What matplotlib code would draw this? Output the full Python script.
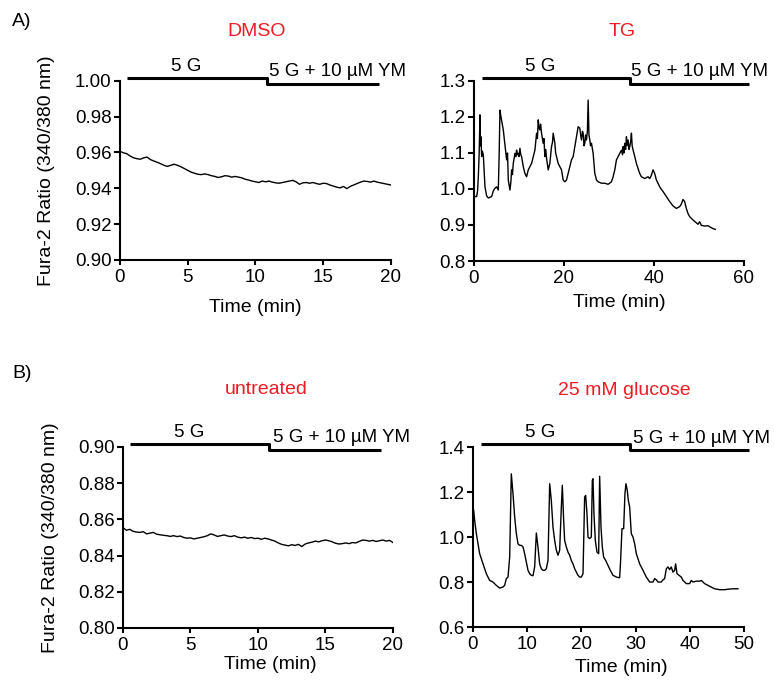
import numpy as np
import matplotlib
matplotlib.use('Agg')
import matplotlib.pyplot as plt
import matplotlib.transforms as mtransforms
from matplotlib.ticker import FormatStrFormatter

plt.rcParams['font.family'] = ['Liberation Sans', 'DejaVu Sans']

RED = '#ED1C24'

# panel A left: DMSO (0.25 min sampling)
dmso_t = np.arange(0, 20.01, 0.25)
dmso_v = [0.9606, 0.9598, 0.9593, 0.9580, 0.9570, 0.9565, 0.9562, 0.9570, 0.9574, 0.9560,
          0.9552, 0.9545, 0.9537, 0.9528, 0.9522, 0.9528, 0.9534, 0.9528, 0.9520, 0.9510,
          0.9500, 0.9490, 0.9484, 0.9478, 0.9476, 0.9480, 0.9476, 0.9470, 0.9466, 0.9460,
          0.9464, 0.9470, 0.9468, 0.9462, 0.9466, 0.9462, 0.9458, 0.9450, 0.9446, 0.9440,
          0.9436, 0.9432, 0.9440, 0.9436, 0.9440, 0.9434, 0.9430, 0.9428, 0.9432, 0.9436,
          0.9440, 0.9444, 0.9436, 0.9422, 0.9430, 0.9432, 0.9428, 0.9432, 0.9426, 0.9422,
          0.9428, 0.9426, 0.9418, 0.9412, 0.9406, 0.9402, 0.9410, 0.9398, 0.9410, 0.9418,
          0.9426, 0.9434, 0.9440, 0.9438, 0.9434, 0.9440, 0.9434, 0.9430, 0.9426, 0.9422,
          0.9418]

# panel A right: TG
tg_t = [0.1, 0.59, 0.8, 0.96, 1.15, 1.33, 1.45, 1.55, 1.70, 1.85, 2.07, 2.25, 2.44, 2.81,
        3.18, 3.92, 4.3, 4.66, 5.03, 5.40, 5.6, 5.77, 6.0, 6.51, 6.9, 7.25, 7.45, 7.62,
        7.99, 8.2, 8.36, 8.55, 8.73, 9.10, 9.3, 9.47, 9.65, 9.84, 10.0, 10.21, 10.4, 10.58,
        10.95, 11.32, 11.69, 12.06, 12.43, 12.80, 13.17, 13.54, 13.91, 14.1, 14.28, 14.45,
        14.64, 14.8, 15.01, 15.2, 15.38, 15.55, 15.75, 15.95, 16.12, 16.3, 16.49, 16.86,
        17.23, 17.45, 17.60, 17.8, 17.97, 18.15, 18.34, 18.71, 19.08, 19.45, 19.82, 20.19,
        20.56, 20.93, 21.30, 21.67, 22.04, 22.41, 22.78, 23.15, 23.52, 23.7, 23.89, 24.1,
        24.26, 24.45, 24.63, 24.8, 25.00, 25.2, 25.37, 25.55, 25.74, 25.9, 26.11, 26.48,
        26.85, 27.22, 27.59, 28.33, 29.07, 29.81, 30.55, 30.92, 31.29, 31.66, 32.03, 32.40,
        32.77, 33.0, 33.14, 33.3, 33.51, 33.7, 33.88, 34.05, 34.25, 34.45, 34.62, 34.8,
        34.99, 35.15, 35.36, 35.73, 36.09, 36.46, 36.83, 37.20, 37.94, 38.68, 39.05, 39.42,
        39.79, 40.16, 40.53, 40.90, 41.27, 41.64, 42.01, 42.75, 43.49, 44.23, 44.97, 45.71,
        46.08, 46.45, 46.82, 47.19, 47.56, 47.93, 48.67, 49.41, 49.78, 50.15, 50.52, 51.26,
        52.00, 52.37, 53.11, 53.62]
tg_v = [0.979, 0.979, 0.995, 1.034, 1.100, 1.206, 1.120, 1.145, 1.090, 1.105, 1.095, 1.050,
        1.006, 0.981, 0.975, 0.979, 0.995, 1.002, 1.006, 0.997, 1.100, 1.219, 1.200, 1.164,
        1.120, 1.081, 1.100, 1.025, 0.997, 1.020, 1.053, 1.040, 1.071, 1.099, 1.090, 1.108,
        1.095, 1.099, 1.090, 1.113, 1.095, 1.090, 1.062, 1.043, 1.034, 1.053, 1.062, 1.071,
        1.090, 1.108, 1.155, 1.140, 1.192, 1.170, 1.164, 1.180, 1.155, 1.140, 1.127, 1.140,
        1.090, 1.110, 1.086, 1.070, 1.053, 1.071, 1.118, 1.130, 1.155, 1.140, 1.127, 1.100,
        1.090, 1.071, 1.062, 1.053, 1.025, 1.020, 1.025, 1.043, 1.062, 1.081, 1.090, 1.118,
        1.145, 1.173, 1.169, 1.150, 1.136, 1.160, 1.155, 1.120, 1.127, 1.150, 1.136, 1.160,
        1.247, 1.150, 1.136, 1.120, 1.127, 1.099, 1.043, 1.025, 1.020, 1.016, 1.016, 1.013,
        1.020, 1.034, 1.053, 1.081, 1.090, 1.099, 1.108, 1.095, 1.118, 1.100, 1.127, 1.110,
        1.145, 1.120, 1.136, 1.110, 1.118, 1.130, 1.155, 1.120, 1.108, 1.090, 1.071, 1.057,
        1.043, 1.034, 1.029, 1.034, 1.029, 1.038, 1.053, 1.043, 1.025, 1.016, 1.006, 0.999,
        0.993, 0.979, 0.965, 0.953, 0.946, 0.951, 0.958, 0.971, 0.965, 0.946, 0.932, 0.923,
        0.914, 0.906, 0.902, 0.909, 0.899, 0.897, 0.898, 0.895, 0.890, 0.888]

# panel B left: untreated (0.25 min sampling)
untr_t = np.arange(0, 20.01, 0.25)
untr_v = [0.8555, 0.8540, 0.8545, 0.8534, 0.8530, 0.8528, 0.8532, 0.8520, 0.8524, 0.8528,
          0.8518, 0.8515, 0.8512, 0.8510, 0.8506, 0.8510, 0.8505, 0.8508, 0.8500, 0.8496,
          0.8498, 0.8492, 0.8496, 0.8500, 0.8504, 0.8510, 0.8520, 0.8514, 0.8506, 0.8510,
          0.8514, 0.8508, 0.8505, 0.8510, 0.8502, 0.8498, 0.8502, 0.8496, 0.8500, 0.8494,
          0.8496, 0.8490, 0.8496, 0.8492, 0.8486, 0.8480, 0.8470, 0.8462, 0.8458, 0.8454,
          0.8460, 0.8456, 0.8462, 0.8450, 0.8464, 0.8470, 0.8474, 0.8480, 0.8476, 0.8482,
          0.8486, 0.8482, 0.8476, 0.8468, 0.8464, 0.8466, 0.8470, 0.8466, 0.8472, 0.8470,
          0.8478, 0.8486, 0.8484, 0.8480, 0.8484, 0.8478, 0.8482, 0.8486, 0.8480, 0.8484,
          0.8472]

# panel B right: 25 mM glucose
gluc_t = [0.12, 0.31, 0.62, 0.92, 1.23, 1.85, 2.46, 3.08, 3.69, 4.31, 4.92, 5.54, 5.84,
          6.15, 6.46, 6.77, 7.07, 7.38, 7.69, 8.00, 8.30, 8.61, 8.92, 9.23, 9.53, 9.84,
          10.15, 10.46, 10.76, 11.07, 11.38, 11.69, 11.99, 12.30, 12.61, 12.92, 13.22, 13.53,
          13.84, 14.15, 14.45, 14.76, 15.07, 15.38, 15.68, 15.99, 16.30, 16.48, 16.73, 16.91,
          17.22, 17.53, 17.84, 18.14, 18.45, 18.76, 19.07, 19.37, 19.68, 19.99, 20.30, 20.60,
          20.79, 21.03, 21.22, 21.53, 21.83, 22.02, 22.14, 22.32, 22.57, 22.88, 23.19, 23.37,
          23.62, 23.86, 24.11, 24.48, 24.91, 25.34, 25.83, 26.45, 27.06, 27.24, 27.49, 27.80,
          28.04, 28.23, 28.47, 28.66, 28.91, 29.21, 29.52, 29.83, 30.14, 30.75, 31.37, 31.98,
          32.60, 33.21, 33.52, 33.83, 34.13, 34.44, 34.75, 35.06, 35.36, 35.67, 35.98, 36.29,
          36.59, 36.90, 37.21, 37.39, 37.64, 38.01, 38.44, 38.75, 39.36, 39.98, 40.28, 40.59,
          41.21, 41.82, 42.13, 42.74, 43.67, 44.59, 45.51, 46.43, 47.36, 47.97, 48.89]
gluc_v = [1.119, 1.074, 1.015, 0.970, 0.926, 0.881, 0.837, 0.807, 0.800, 0.785, 0.773, 0.778,
          0.785, 0.815, 0.822, 0.911, 1.281, 1.193, 1.089, 1.015, 0.970, 0.963, 0.963, 0.956,
          0.926, 0.889, 0.852, 0.837, 0.830, 0.828, 0.867, 1.018, 0.956, 0.881, 0.859, 0.852,
          0.852, 0.859, 0.896, 1.237, 1.163, 1.044, 0.985, 0.941, 0.919, 0.941, 1.133, 1.230,
          1.074, 0.985, 0.956, 0.933, 0.919, 0.896, 0.881, 0.859, 0.844, 0.830, 0.822, 0.822,
          0.837, 1.178, 1.185, 1.104, 1.000, 0.993, 1.000, 1.252, 1.259, 1.104, 0.985, 0.933,
          0.926, 1.270, 1.044, 0.956, 0.911, 0.896, 0.874, 0.852, 0.830, 0.822, 0.819, 0.896,
          1.037, 1.037, 1.193, 1.237, 1.207, 1.163, 1.133, 1.015, 1.000, 0.970, 0.926, 0.881,
          0.852, 0.822, 0.800, 0.800, 0.815, 0.810, 0.800, 0.800, 0.800, 0.810, 0.815, 0.859,
          0.867, 0.855, 0.867, 0.844, 0.852, 0.881, 0.837, 0.830, 0.822, 0.807, 0.793, 0.793,
          0.807, 0.800, 0.804, 0.804, 0.807, 0.793, 0.781, 0.770, 0.766, 0.766, 0.769, 0.770,
          0.770]

# solution bars: start, switch, end (min)
dmso_bar = [0.5, 10.85, 19.1]
tg_bar = [1.7, 34.6, 61.1]
untr_bar = [0.5, 10.8, 19.1]
gluc_bar = [1.5, 28.9, 50.9]


def panel(rect, t, v, ylim, yticks, xlim, xticks, fmt, bar, title, title_x, title_y,
          g_x, ym_x, xlab_x, xlab_y, ylabel=False):
    ax = fig.add_axes(rect)
    ax.plot(t, v, color='black', lw=1.0)
    ax.set_xlim(xlim)
    ax.set_ylim(ylim)
    ax.set_xticks(xticks)
    ax.set_yticks(yticks)
    ax.yaxis.set_major_formatter(FormatStrFormatter(fmt))
    for s in ['top', 'right']:
        ax.spines[s].set_visible(False)
    for s in ['left', 'bottom']:
        ax.spines[s].set_linewidth(1.5)
    ax.tick_params(direction='out', length=4.5, width=1.5, labelsize=13.5, pad=1.5)
    ax.tick_params(axis='x', length=3.5, pad=3)

    tr = mtransforms.blended_transform_factory(ax.transData, ax.transAxes)
    ax.plot([bar[0], bar[1], bar[1], bar[2]], [1.017, 1.017, 0.983, 0.983],
            color='black', lw=2.2, transform=tr, clip_on=False, solid_capstyle='butt')
    ax.text(g_x, 1.08, '5 G', transform=tr, ha='center', va='center', fontsize=13.5)
    ax.text(ym_x, 1.05, '5 G + 10 \u00b5M YM', transform=tr, ha='left', va='center',
            fontsize=13.5)

    ax.text(title_x, title_y, title, transform=ax.transAxes, ha='center', va='center',
            color=RED, fontsize=14)
    ax.set_xlabel('Time (min)', fontsize=14, va='center')
    ax.xaxis.set_label_coords(xlab_x, xlab_y)
    if ylabel:
        ax.set_ylabel('Fura-2 Ratio (340/380 nm)', fontsize=14, va='center')
        ax.yaxis.set_label_coords(-0.27, 0.5)
    return ax


fig = plt.figure(figsize=(7.74, 6.82), dpi=100)

panel([0.155, 0.619, 0.350, 0.2625], dmso_t, dmso_v, (0.90, 1.00),
      [0.90, 0.92, 0.94, 0.96, 0.98, 1.00], (0, 20), [0, 5, 10, 15, 20], '%.2f',
      dmso_bar, 'DMSO', 0.505, 1.274, 4.9, 11.0, 0.5, -0.268, ylabel=True)
panel([0.6124, 0.6173, 0.3488, 0.264], tg_t, tg_v, (0.8, 1.3),
      [0.8, 0.9, 1.0, 1.1, 1.2, 1.3], (0, 60), [0, 20, 40, 60], '%.1f',
      tg_bar, 'TG', 0.55, 1.274, 14.7, 35.0, 0.54, -0.233)
panel([0.1589, 0.0792, 0.3488, 0.2654], untr_t, untr_v, (0.80, 0.90),
      [0.80, 0.82, 0.84, 0.86, 0.88, 0.90], (0, 20), [0, 5, 10, 15, 20], '%.2f',
      untr_bar, 'untreated', 0.53, 1.316, 4.9, 11.1, 0.544, -0.204, ylabel=True)
panel([0.6111, 0.0806, 0.3501, 0.2639], gluc_t, gluc_v, (0.6, 1.4),
      [0.6, 0.8, 1.0, 1.2, 1.4], (0, 50), [0, 10, 20, 30, 40, 50], '%.1f',
      gluc_bar, '25 mM glucose', 0.557, 1.315, 12.4, 29.5, 0.549, -0.227)

fig.text(12 / 774, 1 - 21 / 682, 'A)', fontsize=14, ha='left', va='center')
fig.text(12 / 774, 1 - 373 / 682, 'B)', fontsize=14, ha='left', va='center')

plt.savefig('out.png', dpi=100)
